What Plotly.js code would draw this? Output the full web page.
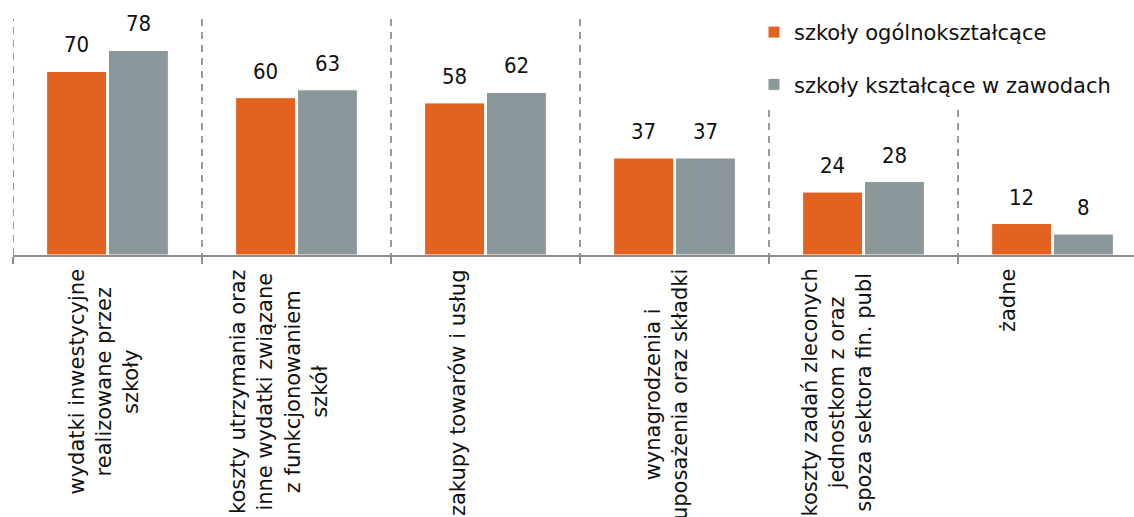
<!DOCTYPE html>
<html>
<head>
<meta charset="utf-8">
<script src="https://cdn.plot.ly/plotly-3.0.1.min.js"></script>
<style>html,body{margin:0;padding:0;background:#fff;}#chart{width:1134px;height:517px;}</style>
</head>
<body>
<div id="chart"></div>
<script>
// ---- data ----
var categories = [
  "wydatki inwestycyjne<br>realizowane przez<br>szkoły",
  "koszty utrzymania oraz<br>inne wydatki związane<br>z funkcjonowaniem<br>szkół",
  "zakupy towarów i usług",
  "wynagrodzenia i<br>uposażenia oraz składki",
  "koszty zadań zleconych<br>jednostkom z oraz<br>spoza sektora fin. publ",
  "żadne"
];
var seriesNames = ["szkoły ogólnokształcące", "szkoły kształcące w zawodach"];
var generalSchools = [70, 60, 58, 37, 24, 12];
var vocationalSchools = [78, 63, 62, 37, 28, 8];

// ---- style ----
var FONT = "'DejaVu Sans', sans-serif";
var NUMFONT = "'DejaVu Sans Condensed', 'DejaVu Sans', sans-serif";
var ORANGE = "#E2621F";
var GRAY = "#8C979B";
var labelShift = [-4, -18, -28, -8, -27, -45];
var BARGAP = 0.346;
var half = (1 - BARGAP) / 4;

var traces = [
  {type: "bar", name: seriesNames[0], x: categories, y: generalSchools,
   marker: {color: ORANGE, line: {color: "#fff", width: 1}}, legendgroup: "a", hoverinfo: "none"},
  {type: "bar", name: seriesNames[1], x: categories, y: vocationalSchools,
   marker: {color: GRAY, line: {color: "#fff", width: 1}}, legendgroup: "b", hoverinfo: "none"}
];

var annotations = [];
categories.forEach(function (c, i) {
  annotations.push({xref: "x", yref: "y", x: i - half, y: generalSchools[i], text: String(generalSchools[i]),
    showarrow: false, yanchor: "bottom", yshift: 12, font: {family: NUMFONT, size: 22, color: "#111"}});
  annotations.push({xref: "x", yref: "y", x: i + half, y: vocationalSchools[i], text: String(vocationalSchools[i]),
    showarrow: false, yanchor: "bottom", yshift: 12, font: {family: NUMFONT, size: 22, color: "#111"}});
  annotations.push({xref: "x", yref: "paper", x: i, y: 0, text: c, textangle: -90, align: "center",
    showarrow: false, yanchor: "top", xanchor: "center", yshift: -12, xshift: labelShift[i],
    font: {family: FONT, size: 21, color: "#111"}});
});

var GRIDCOL = "#9a9a9a";
var layout = {
  width: 1134, height: 517,
  margin: {l: 13, r: 0, t: 19, b: 262, pad: 0},
  paper_bgcolor: "#fff", plot_bgcolor: "#fff",
  barmode: "group", bargap: BARGAP, bargroupgap: 0.03,
  font: {family: FONT, size: 21, color: "#111"},
  xaxis: {
    type: "category", range: [-0.5, 5.431], tickson: "boundaries",
    showticklabels: false, ticks: "outside", ticklen: 7, tickwidth: 2, tickcolor: "#8c8c8c",
    showgrid: true, gridcolor: GRIDCOL, gridwidth: 2, griddash: "7px,6px",
    showline: true, linecolor: "#8c8c8c", linewidth: 2, zeroline: false, fixedrange: true
  },
  yaxis: {range: [0, 90], visible: false, showgrid: false, zeroline: false, fixedrange: true},
  shapes: [{type: "line", xref: "x", yref: "paper", x0: -0.5, x1: -0.5, y0: 0, y1: 1,
    line: {color: GRIDCOL, width: 2, dash: "7px,6px"}, layer: "below"}],
  showlegend: true,
  legend: {
    x: 0.661, xanchor: "left", y: 1.03, yanchor: "top",
    bgcolor: "#fff", borderwidth: 0, traceorder: "grouped", tracegroupgap: 22,
    font: {family: FONT, size: 21, color: "#111"}, itemwidth: 30
  },
  annotations: annotations
};

Plotly.newPlot("chart", traces, layout, {displayModeBar: false, staticPlot: true});
</script>
</body>
</html>
